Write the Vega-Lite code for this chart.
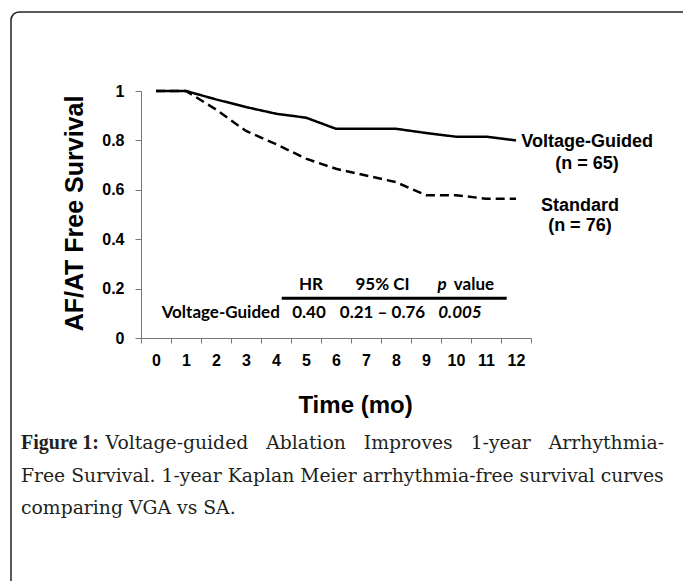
{
  "$schema": "https://vega.github.io/schema/vega-lite/v6.json",
  "autosize": {"type": "none"},
  "padding": {"left": 141, "top": 91, "right": 152, "bottom": 243},
  "width": 390,
  "height": 247,
  "background": "white",
  "config": {"view": {"stroke": null}},
  "encoding": {
    "x": {
      "field": "month", "type": "quantitative",
      "scale": {"domain": [-0.5, 12.5], "nice": false, "zero": false},
      "axis": {
        "title": "Time (mo)",
        "values": [-0.5, 0.5, 1.5, 2.5, 3.5, 4.5, 5.5, 6.5, 7.5, 8.5, 9.5, 10.5, 11.5, 12.5],
        "labelExpr": "datum.value < 12 ? format(datum.value + 0.5, 'd') : ''",
        "labelOffset": 15, "labelFlush": false, "labelOverlap": false, "labelBound": false,
        "grid": false, "domainColor": "#777", "tickColor": "#777", "domainWidth": 1, "tickWidth": 1,
        "tickSize": 5, "labelPadding": 22, "labelBaseline": "alphabetic",
        "labelFont": "Liberation Sans", "labelFontWeight": "bold", "labelFontSize": 16, "labelColor": "#000",
        "titleFont": "Liberation Sans", "titleFontWeight": "bold", "titleFontSize": 24, "titleColor": "#000",
        "titleX": 214, "titleY": 74, "titleBaseline": "alphabetic", "titleAlign": "center"
      }
    },
    "y": {
      "field": "survival", "type": "quantitative",
      "scale": {"domain": [0, 1], "nice": false, "zero": false},
      "axis": {
        "title": "AF/AT Free Survival",
        "values": [0, 0.2, 0.4, 0.6, 0.8, 1],
        "format": ".1~f",
        "grid": false, "domainColor": "#777", "tickColor": "#777", "domainWidth": 1, "tickWidth": 1,
        "tickSize": 6, "labelPadding": 11,
        "labelFont": "Liberation Sans", "labelFontWeight": "bold", "labelFontSize": 16, "labelColor": "#000",
        "titleFont": "Liberation Sans", "titleFontWeight": "bold", "titleFontSize": 25, "titleColor": "#000",
        "titleX": -59, "titleY": 122, "titleBaseline": "alphabetic", "titleAlign": "center", "titleAngle": -90
      }
    }
  },
  "layer": [
    {
      "data": {"values": [{"month": -4.8333, "month_end": 18.5, "survival": 1.3198, "survival_end": -1.06}]},
      "mark": {"type": "rect", "fill": "transparent", "stroke": "#222", "strokeWidth": 1.5, "cornerRadius": 8},
      "encoding": {
        "x2": {"field": "month_end"},
        "y2": {"field": "survival_end"}
      }
    },
    {
      "data": {"values": [
        {"group": "Voltage-Guided", "month": 0, "survival": 1.0},
        {"group": "Voltage-Guided", "month": 1, "survival": 1.0},
        {"group": "Voltage-Guided", "month": 2, "survival": 0.966},
        {"group": "Voltage-Guided", "month": 3, "survival": 0.935},
        {"group": "Voltage-Guided", "month": 4, "survival": 0.908},
        {"group": "Voltage-Guided", "month": 5, "survival": 0.892},
        {"group": "Voltage-Guided", "month": 6, "survival": 0.847},
        {"group": "Voltage-Guided", "month": 7, "survival": 0.847},
        {"group": "Voltage-Guided", "month": 8, "survival": 0.847},
        {"group": "Voltage-Guided", "month": 9, "survival": 0.83},
        {"group": "Voltage-Guided", "month": 10, "survival": 0.815},
        {"group": "Voltage-Guided", "month": 11, "survival": 0.815},
        {"group": "Voltage-Guided", "month": 12, "survival": 0.8},
        {"group": "Standard", "month": 0, "survival": 1.0},
        {"group": "Standard", "month": 1, "survival": 1.0},
        {"group": "Standard", "month": 2, "survival": 0.925},
        {"group": "Standard", "month": 3, "survival": 0.838},
        {"group": "Standard", "month": 4, "survival": 0.785},
        {"group": "Standard", "month": 5, "survival": 0.726},
        {"group": "Standard", "month": 6, "survival": 0.685},
        {"group": "Standard", "month": 7, "survival": 0.658},
        {"group": "Standard", "month": 8, "survival": 0.631},
        {"group": "Standard", "month": 9, "survival": 0.578},
        {"group": "Standard", "month": 10, "survival": 0.578},
        {"group": "Standard", "month": 11, "survival": 0.564},
        {"group": "Standard", "month": 12, "survival": 0.564}
      ]},
      "mark": {"type": "line", "color": "#000", "strokeWidth": 2.5},
      "encoding": {
        "strokeDash": {
          "field": "group", "type": "nominal",
          "scale": {"domain": ["Voltage-Guided", "Standard"], "range": [[1, 0], [9, 5]]},
          "legend": null
        }
      }
    },
    {
      "data": {"values": [
        {"label": "Voltage-Guided", "month": 14.37, "survival": 0.7745},
        {"label": "(n = 65)", "month": 14.37, "survival": 0.683},
        {"label": "Standard", "month": 14.13, "survival": 0.5154},
        {"label": "(n = 76)", "month": 14.13, "survival": 0.4332}
      ]},
      "mark": {"type": "text", "font": "Liberation Sans", "fontWeight": "bold", "fontSize": 18, "align": "center", "baseline": "alphabetic", "color": "#000"},
      "encoding": {"text": {"field": "label"}}
    },
    {
      "data": {"values": [
        {"label": "HR", "month": 5.167, "survival": 0.1943},
        {"label": "95% CI", "month": 7.55, "survival": 0.1943},
        {"label": "value", "month": 10.6, "survival": 0.1943},
        {"label": "Voltage-Guided", "month": 2.157, "survival": 0.0797},
        {"label": "0.40", "month": 5.1, "survival": 0.0797},
        {"label": "0.21 – 0.76", "month": 7.55, "survival": 0.0797}
      ]},
      "mark": {"type": "text", "font": "Lato", "fontWeight": "bold", "fontSize": 17, "align": "center", "baseline": "alphabetic", "color": "#000"},
      "encoding": {"text": {"field": "label"}}
    },
    {
      "data": {"values": [
        {"label": "p", "month": 9.533, "survival": 0.1943},
        {"label": "0.005", "month": 10.133, "survival": 0.0797}
      ]},
      "mark": {"type": "text", "font": "Lato", "fontWeight": "bold", "fontStyle": "italic", "fontSize": 17, "align": "center", "baseline": "alphabetic", "color": "#000"},
      "encoding": {"text": {"field": "label"}}
    },
    {
      "data": {"values": [{"month": 4.19, "month_end": 11.69, "survival": 0.1607}]},
      "mark": {"type": "rule", "color": "#000", "strokeWidth": 3},
      "encoding": {"x2": {"field": "month_end"}}
    },
    {
      "data": {"values": [{"label": "Figure 1:", "month": -4.5, "survival": -0.4494}]},
      "mark": {"type": "text", "font": "Liberation Serif", "fontWeight": "bold", "fontSize": 20, "align": "left", "baseline": "alphabetic", "color": "#231f20"},
      "encoding": {"text": {"field": "label"}}
    },
    {
      "data": {"values": [
        {"label": "Voltage-guided\u00a0\u00a0\u00a0Ablation\u00a0\u00a0\u00a0Improves\u00a0\u00a0\u00a01-year\u00a0\u00a0\u00a0Arrhythmia-", "month": 16.933, "survival": -0.4494}
      ]},
      "mark": {"type": "text", "font": "DejaVu Serif", "fontSize": 18.8, "align": "right", "baseline": "alphabetic", "color": "#231f20"},
      "encoding": {"text": {"field": "label"}}
    },
    {
      "data": {"values": [
        {"label": "Free Survival. 1-year Kaplan Meier arrhythmia-free survival curves", "month": -4.5, "survival": -0.583},
        {"label": "comparing VGA vs SA.", "month": -4.5, "survival": -0.7126}
      ]},
      "mark": {"type": "text", "font": "DejaVu Serif", "fontSize": 18.8, "align": "left", "baseline": "alphabetic", "color": "#231f20"},
      "encoding": {"text": {"field": "label"}}
    }
  ]
}
